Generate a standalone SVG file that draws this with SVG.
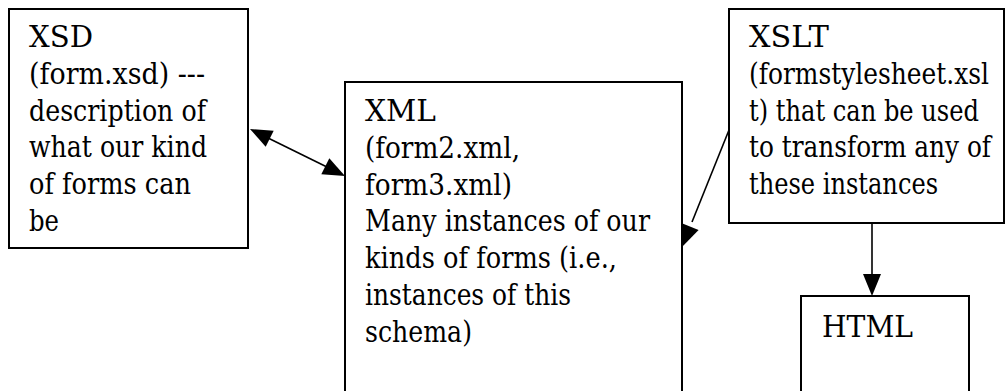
<svg xmlns="http://www.w3.org/2000/svg" width="1006" height="391" viewBox="0 0 1006 391">
  <style>
    .box { fill: #ffffff; stroke: #000000; stroke-width: 2; }
    .lbl { font-family: 'DejaVu Serif', serif; font-size: 29px; fill: #000000; }
    .conn { stroke: #000000; stroke-width: 1.6; fill: none; }
    .head { fill: #000000; stroke: none; }
  </style>
  <rect width="1006" height="391" fill="#ffffff"/>

  <g id="node-xsd">
    <rect class="box" x="9" y="9" width="239" height="239"/>
    <text class="lbl" x="29" y="47" textLength="64" lengthAdjust="spacingAndGlyphs">XSD</text>
    <text class="lbl" x="29" y="83.8" textLength="176" lengthAdjust="spacingAndGlyphs">(form.xsd) ---</text>
    <text class="lbl" x="29" y="120.6" textLength="177" lengthAdjust="spacingAndGlyphs">description of</text>
    <text class="lbl" x="29" y="157.4" textLength="178" lengthAdjust="spacingAndGlyphs">what our kind</text>
    <text class="lbl" x="29" y="194.2" textLength="162" lengthAdjust="spacingAndGlyphs">of forms can</text>
    <text class="lbl" x="29" y="231" textLength="30" lengthAdjust="spacingAndGlyphs">be</text>
  </g>

  <g id="node-xml">
    <rect class="box" x="345" y="82" width="337" height="330"/>
    <text class="lbl" x="365" y="121" textLength="71" lengthAdjust="spacingAndGlyphs">XML</text>
    <text class="lbl" x="365" y="157.8" textLength="155" lengthAdjust="spacingAndGlyphs">(form2.xml,</text>
    <text class="lbl" x="365" y="194.6" textLength="147" lengthAdjust="spacingAndGlyphs">form3.xml)</text>
    <text class="lbl" x="365" y="231.4" textLength="285" lengthAdjust="spacingAndGlyphs">Many instances of our</text>
    <text class="lbl" x="365" y="268.2" textLength="252" lengthAdjust="spacingAndGlyphs">kinds of forms (i.e.,</text>
    <text class="lbl" x="365" y="305" textLength="206" lengthAdjust="spacingAndGlyphs">instances of this</text>
    <text class="lbl" x="365" y="341.8" textLength="107" lengthAdjust="spacingAndGlyphs">schema)</text>
  </g>

  <g id="node-xslt">
    <rect class="box" x="729" y="9" width="275" height="214"/>
    <text class="lbl" x="749" y="47" textLength="80" lengthAdjust="spacingAndGlyphs">XSLT</text>
    <text class="lbl" x="749" y="83.8" textLength="240" lengthAdjust="spacingAndGlyphs">(formstylesheet.xsl</text>
    <text class="lbl" x="749" y="120.6" textLength="230" lengthAdjust="spacingAndGlyphs">t) that can be used</text>
    <text class="lbl" x="749" y="157.4" textLength="242" lengthAdjust="spacingAndGlyphs">to transform any of</text>
    <text class="lbl" x="749" y="194.2" textLength="189" lengthAdjust="spacingAndGlyphs">these instances</text>
  </g>

  <g id="node-html">
    <rect class="box" x="801" y="296" width="168" height="120"/>
    <text class="lbl" x="822" y="337" textLength="91" lengthAdjust="spacingAndGlyphs">HTML</text>
  </g>

  <g id="connectors">
    <line class="conn" x1="265" y1="136.5" x2="330" y2="168.5"/>
    <polygon class="head" points="250,129 265.7,146.8 273.7,130.7"/>
    <polygon class="head" points="345,176 321.3,174.3 329.3,158.2"/>
    <line class="conn" x1="729" y1="130" x2="692" y2="222"/>
    <polygon class="head" points="682,247 681.9,223.3 698.6,230"/>
    <line class="conn" x1="872" y1="223" x2="872" y2="276"/>
    <polygon class="head" points="872,296 863,274 881,274"/>
  </g>
</svg>
